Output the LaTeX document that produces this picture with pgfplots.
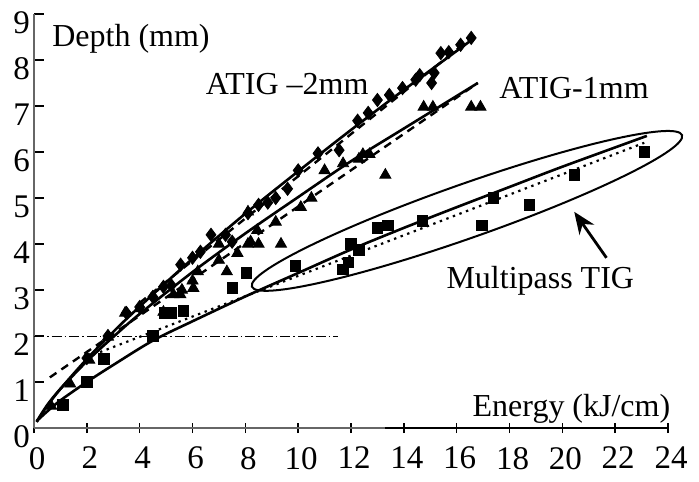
\documentclass[border=0pt]{standalone}
\usepackage{fontspec}
\setmainfont{Liberation Serif}
\usepackage{pgfplots}
\pgfplotsset{compat=1.18}
\usetikzlibrary{arrows.meta}

\begin{document}
\begin{tikzpicture}[font=\fontsize{16}{18}\selectfont]
\begin{axis}[
  scale only axis, width=317pt, height=207pt,
  xmin=0, xmax=24, ymin=0, ymax=9,
  axis lines=left,
  axis line style={gray!80!black, line width=0.7pt, -},
  xtick={0,2,...,24}, ytick={0,1,...,9},
  tick align=inside, major tick length=5pt,
  tick style={black, line width=0.7pt},
  x tick style={yshift=-2.5pt},
  xticklabel style={yshift=-6pt, xshift=1.5pt, font=\fontsize{16.5}{18}\selectfont},
  yticklabel style={yshift=-4.5pt, xshift=1.5pt, font=\fontsize{16.5}{18}\selectfont},
  /pgf/number format/assume math mode=true,
  clip=false,
]
% ATIG -2mm
\addplot[only marks, mark=diamond*, mark size=3.3pt, black] coordinates {
  (2.0,1.52) (2.8,2.0) (3.5,2.5) (4.0,2.63) (4.5,2.85) (4.9,3.07) (5.2,3.1)
  (5.55,3.55) (6.0,3.7) (6.3,3.83) (6.7,4.2) (7.25,4.2) (7.5,4.05) (8.1,4.67)
  (8.5,4.85) (8.85,4.9) (9.15,5.0) (9.6,5.2) (10.0,5.6) (10.75,5.97) (11.55,6.04)
  (12.25,6.68) (12.65,6.85) (13.0,7.13) (13.45,7.24) (13.95,7.39) (14.45,7.57)
  (14.6,7.67) (15.05,7.5) (15.15,7.72) (15.4,8.15) (15.7,8.17) (16.15,8.33) (16.55,8.48)
};
% ATIG -1mm
\addplot[only marks, mark=triangle*, mark size=3.2pt, black] coordinates {
  (0.65,0.48) (1.37,0.96) (2.09,1.48) (2.8,1.98) (3.45,2.5) (4.0,2.6) (4.9,2.52)
  (5.28,2.9) (5.54,2.9) (5.6,3.0) (6.03,3.04) (6.0,3.2) (6.2,3.4) (7.0,3.65)
  (7.3,3.4) (7.7,3.8) (7.0,4.0) (8.1,4.0) (8.2,4.05) (8.5,4.0) (8.1,4.7) (8.45,4.3)
  (9.15,4.48) (9.35,4.0) (10.1,4.8) (10.5,5.0) (11.0,5.6) (11.7,5.75) (12.3,5.85)
  (12.45,5.95) (12.7,5.95) (13.3,5.5) (14.75,6.98) (15.1,6.98) (16.55,6.98) (16.9,6.98)
};
% Multipass TIG
\addplot[only marks, mark=square*, mark size=2.6pt, black] coordinates {
  (1.1,0.5) (2.0,1.0) (2.65,1.5) (4.5,2.0) (4.95,2.5) (5.2,2.5) (5.65,2.55)
  (7.5,3.05) (8.05,3.37) (9.9,3.52) (11.7,3.45) (11.9,3.6) (12.0,4.0) (12.3,3.87)
  (13.0,4.35) (13.4,4.4) (14.7,4.5) (16.95,4.4) (17.4,5.0) (18.75,4.85)
  (20.45,5.5) (23.1,6.0)
};
% fitted curves
\addplot[black, line width=1.3pt, smooth, no markers] coordinates {
  (0.1,0.13) (0.5,0.48) (1,0.85) (2,1.5) (3,2.09) (4,2.64) (6,3.68) (8,4.66)
  (10,5.58) (12,6.48) (14,7.35) (16.6,8.45)
};
\addplot[black, line width=1.3pt, smooth, no markers] coordinates {
  (0.1,0.14) (0.5,0.5) (1,0.85) (2,1.45) (3,1.98) (4,2.48) (6,3.39) (8,4.23)
  (10,5.02) (12,5.8) (14,6.51) (16.8,7.5)
};
\addplot[black, line width=1.3pt, smooth, no markers] coordinates {
  (0.1,0.15) (0.5,0.36) (1,0.6) (2,1.0) (3,1.37) (4.5,1.9) (6,2.32) (8,2.86)
  (10,3.37) (12,3.88) (14,4.35) (16,4.8) (18,5.24) (20,5.68) (23.2,6.35)
};
\addplot[black, line width=1.2pt, dash pattern=on 4pt off 3pt, no markers] coordinates {
  (0.6,1.1) (16.8,7.5)
};
\addplot[black, line width=1.2pt, dash pattern=on 4pt off 3pt, no markers] coordinates {
  (4,2.72) (16.6,8.5)
};
\addplot[black, line width=1.1pt, dash pattern=on 1.2pt off 2.3pt, no markers] coordinates {
  (2.5,1.65) (23.1,6.2)
};
\addplot[black, line width=0.5pt, dash pattern=on 5pt off 1.5pt on 0.8pt off 1.5pt, no markers] coordinates {
  (0,2) (11.5,2)
};
\draw[black, line width=0.7pt] (axis cs:13.3,0) -- (axis cs:24,0);
\draw[line width=1pt, rotate around={19.4:(axis cs:16.39,4.72)}]
  (axis cs:16.39,4.72) ellipse [x radius=114pt, y radius=13.5pt];
\draw[-{Stealth[length=11pt,width=9pt]}, line width=1.4pt]
  (axis cs:21.67,3.7) -- (axis cs:20.45,4.7);
\node[anchor=base west, inner sep=0pt] at (axis cs:0.68,8.3) {Depth (mm)};
\node[anchor=base west, inner sep=0pt] at (axis cs:6.49,7.24) {ATIG –2mm};
\node[anchor=base west, inner sep=0pt] at (axis cs:17.6,7.17) {ATIG-1mm};
\node[anchor=base west, inner sep=0pt] at (axis cs:15.6,3.04) {Multipass TIG};
\node[anchor=base east, inner sep=0pt] at (axis cs:24.1,0.26) {Energy (kJ/cm)};
\end{axis}
\pgfresetboundingbox
\path[use as bounding box] (-17pt,-26.5pt) rectangle (332.5pt,214pt);
\end{tikzpicture}
\end{document}
